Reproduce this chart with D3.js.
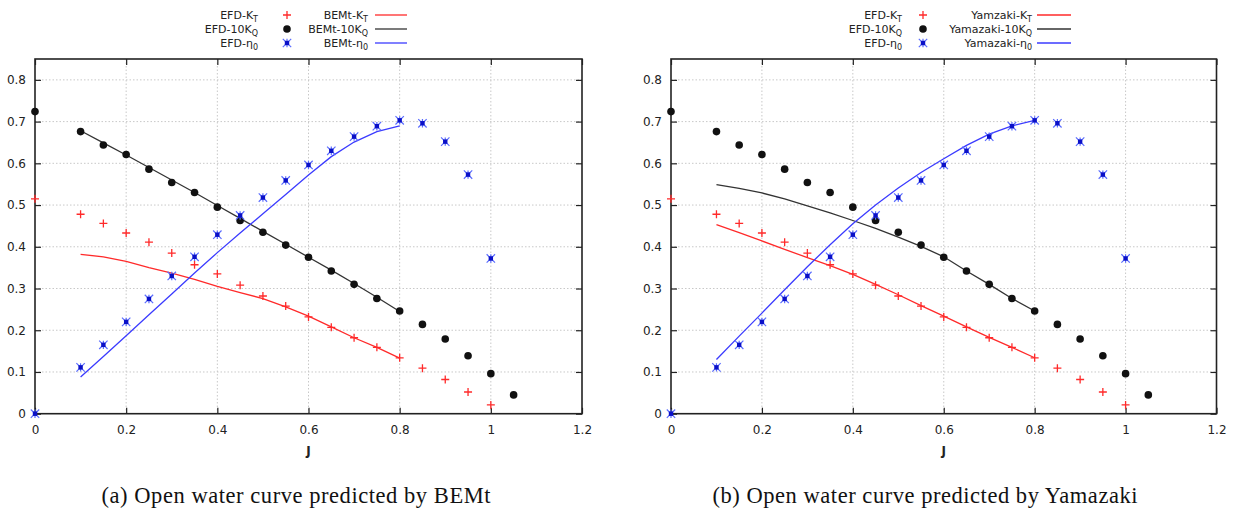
<!DOCTYPE html>
<html>
<head>
<meta charset="utf-8">
<script src="https://cdn.jsdelivr.net/npm/d3@7"></script>
<style>
  html, body { margin: 0; padding: 0; background: #fff; }
  svg { display: block; }
</style>
</head>
<body>
<svg id="chart" width="1237" height="513"></svg>
<script>
// Advance ratio J of the towing-tank (EFD) measurements
const efdJ   = [0, 0.1, 0.15, 0.2, 0.25, 0.3, 0.35, 0.4, 0.45, 0.5, 0.55, 0.6, 0.65, 0.7, 0.75, 0.8, 0.85, 0.9, 0.95, 1.0];
const efdKT  = [0.515, 0.478, 0.456, 0.433, 0.411, 0.385, 0.357, 0.335, 0.308, 0.282, 0.258, 0.232, 0.207, 0.182, 0.159, 0.134, 0.109, 0.082, 0.052, 0.021];
const efdEta = [0, 0.111, 0.165, 0.220, 0.275, 0.330, 0.376, 0.429, 0.475, 0.518, 0.559, 0.596, 0.630, 0.664, 0.689, 0.703, 0.696, 0.652, 0.573, 0.372];
// 10KQ was measured one step further
const efdJQ  = [0, 0.1, 0.15, 0.2, 0.25, 0.3, 0.35, 0.4, 0.45, 0.5, 0.55, 0.6, 0.65, 0.7, 0.75, 0.8, 0.85, 0.9, 0.95, 1.0, 1.05];
const efdKQ  = [0.724, 0.676, 0.644, 0.621, 0.586, 0.554, 0.530, 0.495, 0.463, 0.435, 0.404, 0.375, 0.342, 0.310, 0.276, 0.246, 0.214, 0.179, 0.139, 0.096, 0.045];

// Predictions are computed for J = 0.1 ... 0.8
const predJ  = [0.1, 0.15, 0.2, 0.25, 0.3, 0.35, 0.4, 0.45, 0.5, 0.55, 0.6, 0.65, 0.7, 0.75, 0.8];
const bemtKT  = [0.382, 0.376, 0.365, 0.350, 0.337, 0.322, 0.305, 0.290, 0.276, 0.256, 0.234, 0.208, 0.182, 0.159, 0.133];
const bemtKQ  = [0.678, 0.649, 0.620, 0.590, 0.560, 0.530, 0.499, 0.468, 0.437, 0.406, 0.375, 0.344, 0.312, 0.279, 0.245];
const bemtEta = [0.088, 0.137, 0.187, 0.237, 0.287, 0.337, 0.386, 0.433, 0.479, 0.525, 0.572, 0.616, 0.651, 0.676, 0.690];
const yamaKT  = [0.453, 0.434, 0.414, 0.394, 0.374, 0.355, 0.334, 0.310, 0.285, 0.259, 0.234, 0.208, 0.183, 0.159, 0.134];
const yamaKQ  = [0.549, 0.540, 0.529, 0.515, 0.498, 0.481, 0.463, 0.444, 0.423, 0.401, 0.376, 0.342, 0.310, 0.276, 0.246];
const yamaEta = [0.130, 0.186, 0.241, 0.297, 0.352, 0.405, 0.455, 0.500, 0.541, 0.578, 0.611, 0.643, 0.670, 0.690, 0.703];

const xTicks = [0, 0.2, 0.4, 0.6, 0.8, 1, 1.2];
const yTicks = [0, 0.1, 0.2, 0.3, 0.4, 0.5, 0.6, 0.7, 0.8];

const RED = "#ff2a2a", BLACK = "#111", BLUE = "#3b3bff";
const FONT = "DejaVu Sans, sans-serif";

const svg = d3.select("#chart");

const panels = [
  { left: 35, right: 582, kt: bemtKT, kq: bemtKQ, eta: bemtEta,
    labels: ["BEMt-K", "BEMt-10K", "BEMt-η"],
    leg: { c1: 258, m: 287, c2: 368, l0: 375, l1: 407 },
    caption: "(a) Open water curve predicted by BEMt", capX: 296, capW: 389 },
  { left: 671, right: 1216.5, kt: yamaKT, kq: yamaKQ, eta: yamaEta,
    labels: ["Yamzaki-K", "Yamazaki-10K", "Yamazaki-η"],
    leg: { c1: 902, m: 923, c2: 1032, l0: 1037, l1: 1071 },
    caption: "(b) Open water curve predicted by Yamazaki", capX: 925, capW: 425 }
];
const subs = ["T", "Q", "0"];
const efdLabels = ["EFD-K", "EFD-10K", "EFD-η"];

const plotTop = 59, plotBottom = 413.7;

function plusPath(s) { return `M${-s},0H${s}M0,${-s}V${s}`; }

function drawStar(g, x, y) {
  const s = 4.2;
  g.append("path").attr("d", `M${x - s},${y - s}L${x + s},${y + s}M${x - s},${y + s}L${x + s},${y - s}M${x},${y - s}V${y + s}`)
    .attr("stroke", "#5a6cff").attr("stroke-width", 1.2).attr("fill", "none");
  g.append("rect").attr("x", x - 2.2).attr("y", y - 2.2).attr("width", 4.4).attr("height", 4.4)
    .attr("fill", "#0a10c8");
}

panels.forEach(p => {
  const x = d3.scaleLinear().domain([0, 1.2]).range([p.left, p.right]);
  const y = d3.scaleLinear().domain([0, 0.85]).range([plotBottom, plotTop]);
  const g = svg.append("g");

  // dotted grid
  g.selectAll(".gx").data(xTicks.slice(1, -1)).join("line")
    .attr("x1", d => x(d)).attr("x2", d => x(d)).attr("y1", plotTop).attr("y2", plotBottom)
    .attr("stroke", "#c8c8c8").attr("stroke-width", 1).attr("stroke-dasharray", "1.5,2");
  g.selectAll(".gy").data(yTicks.slice(1)).join("line")
    .attr("x1", p.left).attr("x2", p.right).attr("y1", d => y(d)).attr("y2", d => y(d))
    .attr("stroke", "#c8c8c8").attr("stroke-width", 1).attr("stroke-dasharray", "1.5,2");

  // axes with inward ticks on all four sides
  const ax = g.append("g").attr("transform", `translate(0,${plotBottom})`)
    .call(d3.axisBottom(x).tickValues(xTicks).tickFormat(d3.format("~g")).tickSizeInner(-6).tickSizeOuter(0).tickPadding(12));
  const ay = g.append("g").attr("transform", `translate(${p.left},0)`)
    .call(d3.axisLeft(y).tickValues(yTicks).tickFormat(d3.format("~g")).tickSizeInner(-6).tickSizeOuter(0).tickPadding(9));
  const at = g.append("g").attr("transform", `translate(0,${plotTop})`)
    .call(d3.axisTop(x).tickValues(xTicks).tickFormat("").tickSizeInner(-6).tickSizeOuter(0));
  const ar = g.append("g").attr("transform", `translate(${p.right},0)`)
    .call(d3.axisRight(y).tickValues(yTicks).tickFormat("").tickSizeInner(-6).tickSizeOuter(0));
  [ax, ay, at, ar].forEach(a => {
    a.select(".domain").remove();
    a.selectAll("line").attr("stroke", "#222").attr("stroke-width", 1.2);
    a.selectAll("text").attr("font-family", FONT).attr("font-size", 12).attr("fill", "#222");
  });
  g.append("rect").attr("x", p.left).attr("y", plotTop).attr("width", p.right - p.left).attr("height", plotBottom - plotTop)
    .attr("fill", "none").attr("stroke", "#222").attr("stroke-width", 1.6);

  g.append("text").attr("x", (p.left + p.right) / 2).attr("y", 455)
    .attr("text-anchor", "middle").attr("font-family", FONT).attr("font-size", 12).attr("font-weight", "bold")
    .attr("fill", "#222").text("J");

  // predicted curves
  const line = d3.line().x(d => x(d[0])).y(d => y(d[1]));
  [[p.kt, RED], [p.kq, "#333"], [p.eta, BLUE]].forEach(([vals, c]) => {
    g.append("path").datum(predJ.map((j, i) => [j, vals[i]])).attr("d", line)
      .attr("fill", "none").attr("stroke", c).attr("stroke-width", 1.3);
  });

  // measured points
  g.selectAll(".kt").data(efdJ.map((j, i) => [j, efdKT[i]])).join("path")
    .attr("transform", d => `translate(${x(d[0])},${y(d[1])})`).attr("d", plusPath(4))
    .attr("stroke", RED).attr("stroke-width", 1.3).attr("fill", "none");
  g.selectAll(".kq").data(efdJQ.map((j, i) => [j, efdKQ[i]])).join("circle")
    .attr("cx", d => x(d[0])).attr("cy", d => y(d[1])).attr("r", 3.8).attr("fill", BLACK);
  efdJ.forEach((j, i) => drawStar(g, x(j), y(efdEta[i])));

  // legend
  const rows = [15, 29, 43];
  const L = p.leg;
  rows.forEach((ry, i) => {
    const t1 = g.append("text").attr("x", L.c1).attr("y", ry + 4).attr("text-anchor", "end")
      .attr("font-family", FONT).attr("font-size", 11).attr("fill", "#222");
    t1.append("tspan").text(efdLabels[i]);
    t1.append("tspan").attr("font-size", 8).attr("dy", 3).text(subs[i]);
    const t2 = g.append("text").attr("x", L.c2).attr("y", ry + 4).attr("text-anchor", "end")
      .attr("font-family", FONT).attr("font-size", 11).attr("fill", "#222");
    t2.append("tspan").text(p.labels[i]);
    t2.append("tspan").attr("font-size", 8).attr("dy", 3).text(subs[i]);
    g.append("line").attr("x1", L.l0).attr("x2", L.l1).attr("y1", ry).attr("y2", ry)
      .attr("stroke", [RED, "#333", BLUE][i]).attr("stroke-width", 1.3);
  });
  g.append("path").attr("transform", `translate(${L.m},${rows[0]})`).attr("d", plusPath(4))
    .attr("stroke", RED).attr("stroke-width", 1.3).attr("fill", "none");
  g.append("circle").attr("cx", L.m).attr("cy", rows[1]).attr("r", 3.8).attr("fill", BLACK);
  drawStar(g, L.m, rows[2]);

  // caption
  svg.append("text").attr("x", p.capX).attr("y", 503).attr("text-anchor", "middle")
    .attr("font-family", "Liberation Serif, serif").attr("font-size", 22.5).attr("fill", "#111")
    .attr("textLength", p.capW).attr("lengthAdjust", "spacing")
    .text(p.caption);
});
</script>
</body>
</html>
